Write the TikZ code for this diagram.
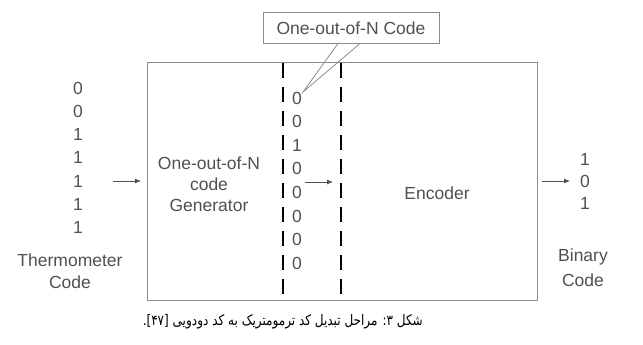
\documentclass[tikz,border=0pt]{standalone}
\usepackage{fontspec}
\setmainfont{Liberation Sans}
\newfontfamily\arabicfont[Script=Arabic]{DejaVu Sans}
\TeXXeTstate=1
\usetikzlibrary{arrows.meta}
\definecolor{txtgray}{HTML}{505050}
\definecolor{linegray}{HTML}{8C8C8C}
\begin{document}
\begin{tikzpicture}[x=1pt,y=-1pt,
  lbl/.style={font=\fontsize{17.5}{21}\selectfont, text=txtgray, inner sep=0pt, anchor=center},
  blockbox/.style={draw=linegray, line width=1pt, inner sep=0pt},
  dashline/.style={draw=black, line width=2.8pt, dash pattern=on 15pt off 9pt},
  arr/.style={draw=txtgray, line width=0.8pt, -{Latex[length=6pt,width=5pt]}},
  calloutline/.style={draw=linegray, line width=0.8pt}]
\useasboundingbox (0,0) rectangle (643,345);
% main box
\node[blockbox, minimum width=390pt, minimum height=237pt] (main) at (342,181.5) {};
% dashed separators
\coordinate (d1t) at (283,63); \coordinate (d1b) at (283,300);
\coordinate (d2t) at (341,63); \coordinate (d2b) at (341,300);
\draw[dashline] (d1t) -- (d1b);
\draw[dashline] (d2t) -- (d2b);
% callout
\node[blockbox, lbl, draw=linegray, minimum width=176pt, minimum height=31pt] (callout) at (351,28) {One-out-of-N Code};
\coordinate (cA) at (338,43.5);
\coordinate (cB) at (360,43.5);
\coordinate (tip) at (303,92);
\draw[calloutline] (cA) -- (tip) -- (cB);
% thermometer code
\foreach \d [count=\i from 0] in {0,0,1,1,1,1,1}
  \node[lbl] (t\i) at (78,88+23.3*\i) {\d};
\node[lbl] (therm) at (70,260) {Thermometer};
\node[lbl] (thermcode) at (70,282) {Code};
% one-out-of-N code column
\foreach \d [count=\i from 0] in {0,0,1,0,0,0,0,0}
  \node[lbl] (m\i) at (297,98+23.6*\i) {\d};
% block labels
\node[lbl, align=center] (gen) at (209,184) {One-out-of-N\\code\\Generator};
\node[lbl] (enc) at (437,193) {Encoder};
% binary code
\node[lbl] (b0) at (585,159) {1};
\node[lbl] (b1) at (585,181) {0};
\node[lbl] (b2) at (585,203) {1};
\node[lbl] (bin) at (583,257) {Binary};
\node[lbl] (bincode) at (583,280) {Code};
% arrows
\coordinate (aLs) at (113,181); \coordinate (aLe) at (141,181);
\coordinate (aMs) at (305,182); \coordinate (aMe) at (333,182);
\coordinate (aRs) at (542,181); \coordinate (aRe) at (570,181);
\draw[arr] (aLs) -- (aLe);
\draw[arr] (aMs) -- (aMe);
\draw[arr] (aRs) -- (aRe);
% caption
\node[inner sep=0pt, anchor=east, xscale=0.83, transform shape, font=\arabicfont\fontsize{14.5}{17}\selectfont] (caption) at (423,322)
  {\beginR شکل ۳:  مراحل تبدیل کد ترمومتریک به کد دودویی [۴۷].\endR};
\end{tikzpicture}
\end{document}
